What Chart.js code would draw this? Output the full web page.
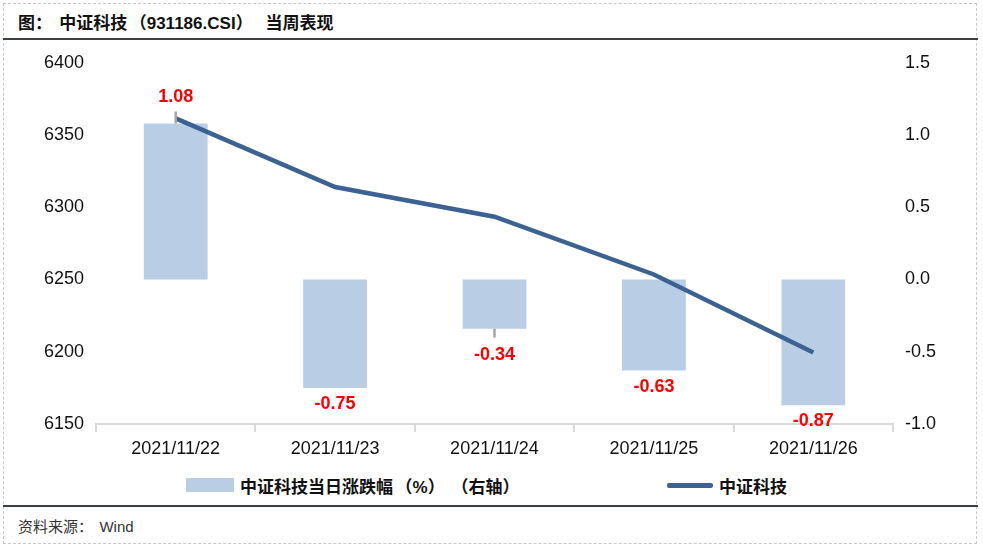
<!DOCTYPE html>
<html>
<head>
<meta charset="utf-8">
<script src="https://cdn.jsdelivr.net/npm/chart.js@4"></script>
<style>
  html, body { margin:0; padding:0; background:#fff; }
  body { width:983px; height:548px; position:relative; overflow:hidden;
         font-family: "Liberation Sans", Arial, "Noto Sans CJK SC", sans-serif; }
  #frame { position:absolute; left:3px; top:3px; width:974px; height:541px;
           border:1px dashed #c8c8c8; box-sizing:border-box; }
  #title { position:absolute; left:18px; top:9px; font-size:17px; font-weight:bold; color:#111; white-space:nowrap; }
  #topline { position:absolute; left:3px; width:975px; top:38px; height:0; border-top:2px solid #3a3f47; }
  #botline { position:absolute; left:3px; width:975px; top:505px; height:0; border-top:2px solid #3a3f47; }
  #source { position:absolute; left:18px; top:515px; font-size:15px; color:#333; white-space:nowrap; }
  #wrap { position:absolute; left:0; top:40px; width:983px; height:425px; }
  #legend { position:absolute; top:474px; left:0; width:983px; height:22px; font-size:17px; font-weight:bold; color:#111; }
  .lg { position:absolute; top:0; display:flex; align-items:center; height:22px; white-space:nowrap; }
  .sw-bar { width:48px; height:14px; margin-right:6px; }
  .sw-line { width:46px; height:5px; border-radius:2px; margin-right:6px; }
  .po { margin-left:0.15em; }
  .pc { margin-right:0.75em; }
  .co { margin-right:0.42em; }
</style>
</head>
<body>
<div id="frame"></div>
<div id="title"></div>
<div id="topline"></div>
<div id="wrap"><canvas id="c" width="983" height="425"></canvas></div>
<div id="legend">
  <div class="lg" style="left:186px"><div class="sw-bar" id="swBar"></div><span id="lgBar"></span></div>
  <div class="lg" style="left:667px"><div class="sw-line" id="swLine"></div><span id="lgLine"></span></div>
</div>
<div id="botline"></div>
<div id="source"></div>
<script>
const titleText = "图：中证科技（931186.CSI）当周表现";
const sourceText = "资料来源：Wind";
const categories = ["2021/11/22", "2021/11/23", "2021/11/24", "2021/11/25", "2021/11/26"];
const dailyChange = [1.08, -0.75, -0.34, -0.63, -0.87];
const indexClose = [6361.5, 6314, 6293.5, 6253.5, 6199.5];
const barLabel = "中证科技当日涨跌幅（%）（右轴）";
const lineLabel = "中证科技";
const leftTicks = { min: 6150, max: 6400, step: 50 };
const rightTicks = { min: -1.0, max: 1.5, step: 0.5 };
const leaderIdx = [0, 2];

const BAR_COLOR = "#b9cde5";
const LINE_COLOR = "#3b6293";

// Render text with wider spacing around full-width punctuation
function setText(el, str) {
  el.textContent = "";
  const cls = { "（": "po", "）": "pc", "：": "co" };
  for (const ch of str) {
    if (cls[ch]) {
      const s = document.createElement("span"); s.className = cls[ch]; s.textContent = ch; el.appendChild(s);
    } else {
      el.appendChild(document.createTextNode(ch));
    }
  }
}
setText(document.getElementById("title"), titleText);
setText(document.getElementById("source"), sourceText);
setText(document.getElementById("lgBar"), barLabel);
setText(document.getElementById("lgLine"), lineLabel);
document.getElementById("swBar").style.background = BAR_COLOR;
document.getElementById("swLine").style.background = LINE_COLOR;

const tickFont = { family: "'Liberation Sans', Arial, sans-serif", size: 18 };

const labelPlugin = {
  id: "barLabels",
  afterDatasetsDraw(chart) {
    const ctx = chart.ctx;
    const meta = chart.getDatasetMeta(0);
    ctx.save();
    ctx.font = "bold 18px 'Liberation Sans', Arial, sans-serif";
    ctx.textAlign = "center";
    ctx.textBaseline = "middle";
    meta.data.forEach((bar, i) => {
      const v = dailyChange[i];
      const lead = leaderIdx.includes(i);
      const off = lead ? 26 : 16;
      const y = v >= 0 ? bar.y - off : bar.y + off;
      if (lead) {
        ctx.strokeStyle = "#a6a6a6";
        ctx.lineWidth = 2.5;
        ctx.beginPath();
        if (v >= 0) { ctx.moveTo(bar.x, bar.y); ctx.lineTo(bar.x, bar.y - 12); }
        else { ctx.moveTo(bar.x, bar.y); ctx.lineTo(bar.x, bar.y + 9); }
        ctx.stroke();
      }
      ctx.fillStyle = "#ff0000";
      ctx.fillText(v.toFixed(2), bar.x, y);
    });
    ctx.restore();
  }
};

new Chart(document.getElementById("c"), {
  type: "bar",
  data: {
    labels: categories,
    datasets: [
      { type: "bar", label: barLabel, data: dailyChange, yAxisID: "yR",
        backgroundColor: BAR_COLOR, barPercentage: 0.4, categoryPercentage: 1.0, order: 2 },
      { type: "line", label: lineLabel, data: indexClose, yAxisID: "yL",
        borderColor: LINE_COLOR, borderWidth: 4.5, pointRadius: 0, tension: 0, order: 1, fill: false }
    ]
  },
  options: {
    responsive: false,
    animation: false,
    devicePixelRatio: 1,
    layout: { padding: { top: 20, left: 0, right: 0, bottom: 0 } },
    plugins: { legend: { display: false }, tooltip: { enabled: false } },
    scales: {
      x: {
        offset: true,
        border: { display: true, color: "#d9d9d9", width: 2 },
        grid: { display: true, offset: true, drawOnChartArea: false, drawTicks: true, tickLength: 8, color: "#d9d9d9", lineWidth: 2 },
        ticks: { color: "#111", font: tickFont, padding: 6, maxRotation: 0 },
        afterFit(s) { s.height = 41; }
      },
      yL: {
        position: "left",
        min: leftTicks.min, max: leftTicks.max,
        border: { display: false },
        grid: { display: false, drawTicks: false },
        ticks: { stepSize: leftTicks.step, color: "#111", font: tickFont, padding: 12,
                 callback: v => String(Math.round(v)) },
        afterFit(s) { s.width = 96; }
      },
      yR: {
        position: "right",
        min: rightTicks.min, max: rightTicks.max,
        border: { display: false },
        grid: { display: false, drawTicks: false },
        ticks: { stepSize: rightTicks.step, color: "#111", font: tickFont, padding: 12,
                 callback: v => Number(v).toFixed(1) },
        afterFit(s) { s.width = 90; }
      }
    }
  },
  plugins: [labelPlugin]
});
</script>
</body>
</html>
